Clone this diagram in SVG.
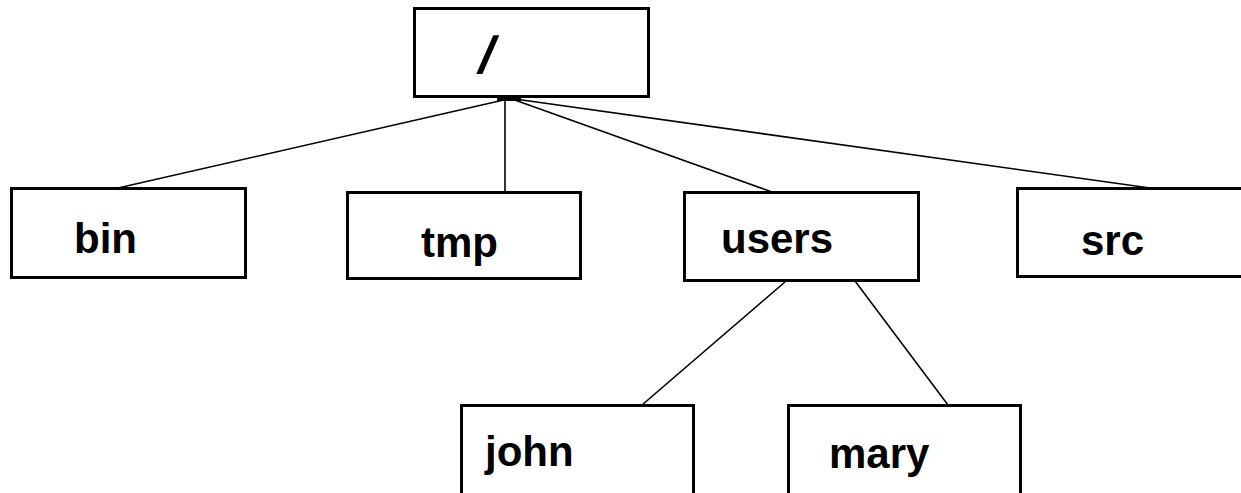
<svg xmlns="http://www.w3.org/2000/svg" width="1241" height="493" viewBox="0 0 1241 493">
  <style>
    .box { fill: #fff; stroke: #000; stroke-width: 3; }
    .lbl { font-family: "Liberation Sans", Arial, sans-serif; font-weight: bold; font-size: 42px; fill: #000; }
    .link { stroke: #000; stroke-width: 1.6; fill: none; }
  </style>
  <rect width="1241" height="493" fill="#fff"/>

  <!-- tree edges -->
  <g id="connectors">
    <line class="link" x1="508" y1="99" x2="118" y2="188"/>
    <line class="link" x1="505" y1="98" x2="505" y2="192"/>
    <line class="link" x1="512" y1="99" x2="772" y2="192"/>
    <line class="link" x1="515" y1="99" x2="1150" y2="188"/>
    <line class="link" x1="785" y1="282" x2="642" y2="405"/>
    <line class="link" x1="855" y1="281" x2="948" y2="405"/>
    <rect x="497" y="97" width="24" height="4" fill="#000"/>
  </g>

  <g id="root">
    <rect class="box" x="414.5" y="8.5" width="234" height="88"/>
    <text class="lbl" transform="translate(476,73) skewX(-14)" style="font-size:52px">/</text>
  </g>
  <g id="bin">
    <rect class="box" x="11.5" y="188.5" width="234" height="89"/>
    <text class="lbl" x="74" y="253">bin</text>
  </g>
  <g id="tmp">
    <rect class="box" x="347.5" y="192.5" width="233" height="86"/>
    <text class="lbl" x="421" y="257">tmp</text>
  </g>
  <g id="users">
    <rect class="box" x="684.5" y="192.5" width="234" height="88"/>
    <text class="lbl" x="721" y="253">users</text>
  </g>
  <g id="src">
    <rect class="box" x="1017.5" y="188.5" width="250" height="88"/>
    <text class="lbl" x="1081" y="255">src</text>
  </g>
  <g id="john">
    <rect class="box" x="461.5" y="405.5" width="232" height="100"/>
    <text class="lbl" x="485" y="466">john</text>
  </g>
  <g id="mary">
    <rect class="box" x="788.5" y="405.5" width="232" height="100"/>
    <text class="lbl" x="829" y="468">mary</text>
  </g>
</svg>
